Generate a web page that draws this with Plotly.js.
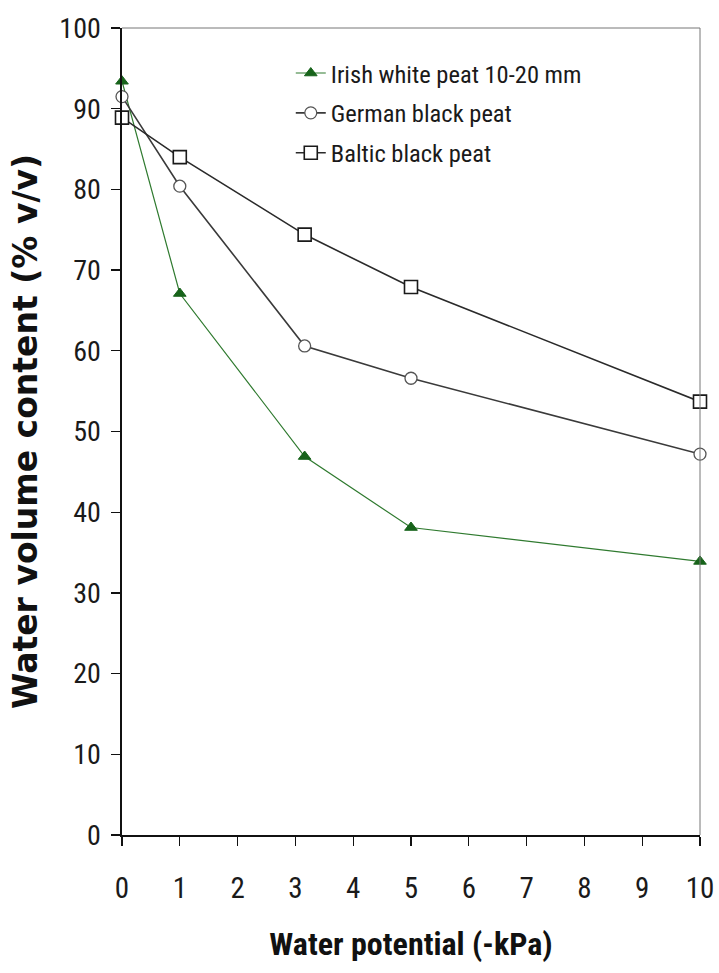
<!DOCTYPE html>
<html>
<head>
<meta charset="utf-8">
<script src="https://cdn.plot.ly/plotly-3.0.1.min.js"></script>
<style>html,body{margin:0;padding:0;background:#fff;}</style>
</head>
<body>
<div id="chart" style="width:719px;height:973px;"></div>
<script>
const potential = [0, 1, 3.16, 5, 10];
const irishWhite = [93.4, 67.1, 46.9, 38.1, 33.9];
const germanBlack = [91.5, 80.4, 60.6, 56.6, 47.2];
const balticBlack = [88.9, 84.0, 74.4, 67.9, 53.7];
const seriesNames = ['Irish white peat 10-20 mm', 'German black peat', 'Baltic black peat'];
const xTicks = [0,1,2,3,4,5,6,7,8,9,10];
const yTicks = [0,10,20,30,40,50,60,70,80,90,100];

const NARROW = 'Roboto Condensed, Liberation Sans, Arial, sans-serif';

const traces = [
  {x: potential, y: irishWhite, name: seriesNames[0], legendgroup: 'a', type: 'scatter', mode: 'lines+markers',
   line: {color: '#2f7a2f', width: 1.2},
   marker: {symbol: 'triangle-up', size: 11, color: '#17631a', line: {color: '#17631a', width: 1}},
   cliponaxis: false},
  {x: potential, y: germanBlack, name: seriesNames[1], legendgroup: 'b', type: 'scatter', mode: 'lines+markers',
   line: {color: '#3a3a3a', width: 1.6},
   marker: {symbol: 'circle', size: 12, color: '#ffffff', line: {color: '#555555', width: 1.3}},
   cliponaxis: false},
  {x: potential, y: balticBlack, name: seriesNames[2], legendgroup: 'c', type: 'scatter', mode: 'lines+markers',
   line: {color: '#2a2a2a', width: 1.6},
   marker: {symbol: 'square', size: 13, color: '#ffffff', line: {color: '#1a1a1a', width: 1.6}},
   cliponaxis: false}
];

const layout = {
  width: 719, height: 973,
  margin: {l: 122, r: 19, t: 28, b: 138},
  paper_bgcolor: '#ffffff', plot_bgcolor: '#ffffff',
  font: {family: NARROW, color: '#1a1a1a'},
  showlegend: true,
  legend: {x: 0.292, y: 0.972, xanchor: 'left', yanchor: 'top', bgcolor: 'rgba(0,0,0,0)',
           font: {family: NARROW, size: 24.5, color: '#1a1a1a'}, tracegroupgap: 5},
  xaxis: {range: [0, 10], tickvals: xTicks, ticktext: xTicks.map(String),
          ticks: 'outside', ticklen: 9, tickwidth: 1.3, tickcolor: '#111',
          showline: true, linecolor: '#111', linewidth: 1.6,
          showgrid: false, zeroline: false, ticklabelstandoff: 18,
          tickfont: {family: NARROW, size: 29, color: '#1a1a1a'},
          title: {text: 'Water potential (-kPa)', standoff: 28,
                  font: {family: NARROW, size: 32, weight: 'bold', color: '#111'}}},
  yaxis: {range: [0, 100], tickvals: yTicks, ticktext: yTicks.map(String),
          ticks: 'outside', ticklen: 9, tickwidth: 1.3, tickcolor: '#111',
          showline: true, linecolor: '#111', linewidth: 1.6,
          showgrid: false, zeroline: false, ticklabelstandoff: 5,
          tickfont: {family: NARROW, size: 28, color: '#1a1a1a'},
          title: {text: 'Water volume content (% v/v)', standoff: 12,
                  font: {family: 'DejaVu Sans, sans-serif', size: 33, weight: 'bold', color: '#111'}}},
  yaxis2: {range: [0, 100], overlaying: 'y', side: 'left', dtick: 5, tick0: 0,
           ticks: 'inside', ticklen: 7, tickwidth: 1.3, tickcolor: '#111',
           showticklabels: false, showline: false, showgrid: false, zeroline: false},
  shapes: [
    {type: 'line', xref: 'paper', yref: 'paper', x0: 0, x1: 1, y0: 1, y1: 1, line: {color: '#777', width: 1}},
    {type: 'line', xref: 'paper', yref: 'paper', x0: 1, x1: 1, y0: 0, y1: 1, line: {color: '#777', width: 1}}
  ]
};

Plotly.newPlot('chart', traces, layout, {displayModeBar: false, staticPlot: true});
</script>
</body>
</html>
